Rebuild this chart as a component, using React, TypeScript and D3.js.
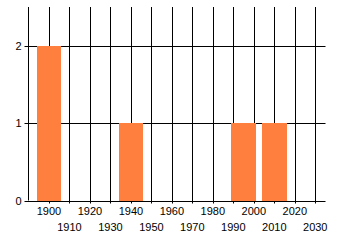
import React from "react";
import * as d3 from "d3";

const years = [1900, 1940, 1995, 2010];
const counts = [2, 1, 1, 1];
const xTicks = [1900, 1910, 1920, 1930, 1940, 1950, 1960, 1970, 1980, 1990, 2000, 2010, 2020, 2030];
const yTicks = [0, 1, 2];

export default function App() {
  const W = 340, H = 245;
  const left = 28.5, right = 325.5, top = 7, bottom = 200.5;
  const x = d3.scaleLinear().domain([1890, 2035]).range([left, right]);
  const y = d3.scaleLinear().domain([0, 2.5]).range([bottom, top]);
  const barW = 12;
  const font = "'Liberation Sans', Arial, sans-serif";
  return (
    <svg width={W} height={H} style={{ position: "absolute", left: 0, top: 0, background: "#fff" }}>
      {xTicks.map((t) => (
        <line key={"vx" + t} x1={Math.round(x(t)) + 0.5} x2={Math.round(x(t)) + 0.5} y1={top} y2={bottom + 3} stroke="#000" strokeWidth={1} />
      ))}
      {yTicks.map((t) => (
        <line key={"hy" + t} x1={left - 4} x2={right} y1={Math.round(y(t)) + 0.5} y2={Math.round(y(t)) + 0.5} stroke="#000" strokeWidth={1} />
      ))}
      <line x1={left} x2={left} y1={top} y2={bottom} stroke="#000" strokeWidth={1} />
      {years.map((yr, i) => (
        <rect key={"b" + yr} x={Math.round(x(yr - barW / 2))} y={Math.round(y(counts[i]))} width={Math.round(x(yr + barW / 2)) - Math.round(x(yr - barW / 2))} height={Math.round(y(0)) - Math.round(y(counts[i]))} fill="#FF7F3F" />
      ))}
      {yTicks.map((t) => (
        <text key={"yl" + t} x={left - 7} y={y(t) + 4} textAnchor="end" fontFamily={font} fontSize={11} fill="#000">{t}</text>
      ))}
      {xTicks.map((t, i) => (
        <text key={"xl" + t} x={x(t)} y={i % 2 === 0 ? 215 : 231} textAnchor="middle" fontFamily={font} fontSize={11} fill="#000">{t}</text>
      ))}
    </svg>
  );
}
